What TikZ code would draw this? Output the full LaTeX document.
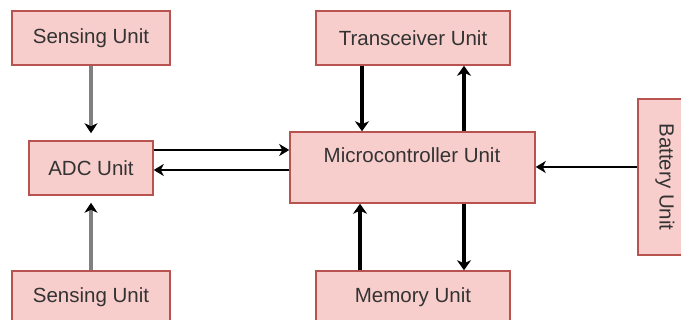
\documentclass[tikz,border=0pt]{standalone}
\usepackage{fontspec}
\setmainfont{Liberation Sans}
\usetikzlibrary{arrows.meta}
\definecolor{boxfill}{HTML}{F8CECC}
\definecolor{boxline}{HTML}{B85450}
\definecolor{txt}{HTML}{333333}
\definecolor{grayline}{HTML}{808080}
\begin{document}
\begin{tikzpicture}[x=1pt,y=-1pt,
  unitbox/.style={draw=boxline, fill=boxfill, line width=1.5pt, inner sep=0pt,
    font=\fontsize{20.5}{24}\selectfont, text=txt},
  unittext/.style={inner sep=0pt, font=\fontsize{20.5}{24}\selectfont, text=txt},
  grayarr/.style={draw=grayline, line width=4pt, shorten >=7pt,
    -{Stealth[length=10pt,width=13pt,inset=3pt,color=black]}},
  boldarr/.style={draw=black, line width=4.5pt,
    -{Stealth[length=10pt,width=14pt,inset=3pt]}},
  thinarr/.style={draw=black, line width=2.8pt,
    -{Stealth[length=10pt,width=12pt,inset=3pt]}}]
\useasboundingbox (0,0) rectangle (681,320);
\node[unitbox, minimum width=158pt, minimum height=54pt] (s1) at (91,38) {Sensing Unit};
\node[unitbox, minimum width=124pt, minimum height=54pt] (adc) at (91,168) {ADC Unit};
\node[unitbox, minimum width=158pt, minimum height=52pt] (s2) at (91,297) {Sensing Unit};
\node[unitbox, minimum width=194pt, minimum height=54pt] (tr) at (413,38) {Transceiver Unit};
\node[unitbox, minimum width=245pt, minimum height=71pt] (mc) at (412.5,167.5) {};
\node[unittext] (mct) at (412,155) {Microcontroller Unit};
\node[unitbox, minimum width=194pt, minimum height=52pt] (mem) at (413,297) {Memory Unit};
\node[unitbox, minimum width=156pt, minimum height=54pt, rotate=-90] (bat) at (665,177) {Battery Unit};
% sensing -> ADC
\draw[grayarr] (s1.south) -- (adc.north);
\draw[grayarr] (s2.north) -- (adc.south);
% ADC <-> MCU
\draw[thinarr] ([yshift=18pt]adc.east) -- ([yshift=18pt]adc.east -| mc.west);
\draw[thinarr] ([yshift=-2pt]adc.east -| mc.west) -- ([yshift=-2pt]adc.east);
% Transceiver <-> MCU
\draw[boldarr] ([xshift=-51pt]tr.south) -- ([xshift=-51pt]tr.south |- mc.north);
\draw[boldarr] ([xshift=51pt]tr.south |- mc.north) -- ([xshift=51pt]tr.south);
% Memory <-> MCU
\draw[boldarr] ([xshift=-53pt]mem.north) -- ([xshift=-53pt]mem.north |- mc.south);
\draw[boldarr] ([xshift=51pt]mem.north |- mc.south) -- ([xshift=51pt]mem.north);
% Battery -> MCU
\draw[thinarr] ([yshift=10pt]bat.south) -- ([yshift=10pt]bat.south -| mc.east);
\end{tikzpicture}
\end{document}
